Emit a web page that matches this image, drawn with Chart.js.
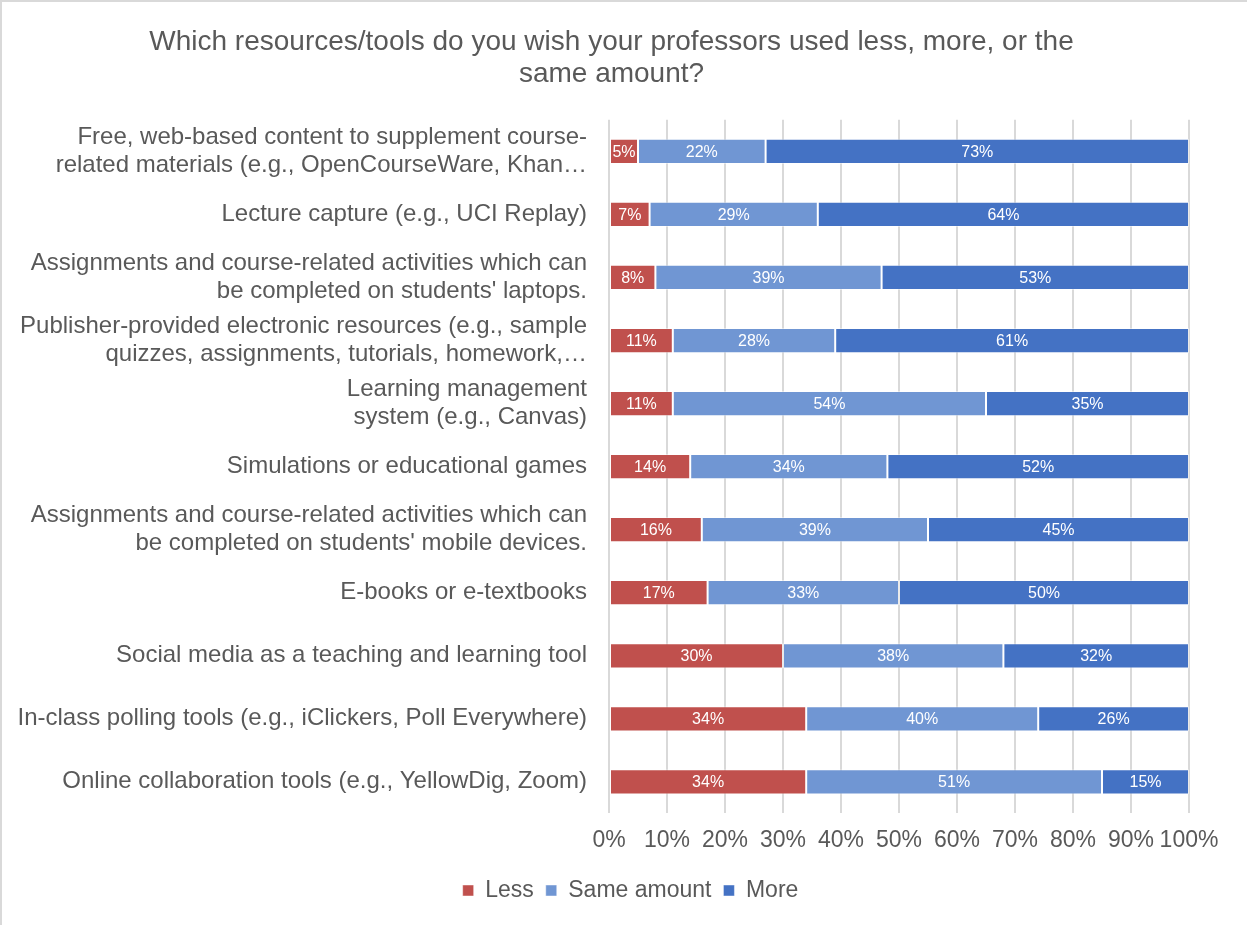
<!DOCTYPE html>
<html>
<head>
<meta charset="utf-8">
<title>Resources/tools survey</title>
<script src="https://cdn.jsdelivr.net/npm/chart.js@4.4.1/dist/chart.umd.min.js"></script>
<style>
    html, body { margin: 0; padding: 0; background: #ffffff; }
    .frame { position: relative; width: 1247px; height: 925px; }
    .frame::after {
        content: '';
        position: absolute;
        inset: 0;
        border-top: 2px solid #d9d9d9;
        border-left: 2px solid #d9d9d9;
        pointer-events: none;
    }
    canvas { display: block; }
</style>
</head>
<body>
<div class="frame">
    <canvas id="surveyChart" width="1247" height="925"></canvas>
</div>
<script>
// Survey answers, top to bottom
const categories = [
    ['Free, web-based content to supplement course-', 'related materials (e.g., OpenCourseWare, Khan\u2026'],
    'Lecture capture (e.g., UCI Replay)',
    ['Assignments and course-related activities which can', "be completed on students' laptops."],
    ['Publisher-provided electronic resources (e.g., sample', 'quizzes, assignments, tutorials, homework,\u2026'],
    ['Learning management', 'system (e.g., Canvas)'],
    'Simulations or educational games',
    ['Assignments and course-related activities which can', "be completed on students' mobile devices."],
    'E-books or e-textbooks',
    'Social media as a teaching and learning tool',
    'In-class polling tools (e.g., iClickers, Poll Everywhere)',
    'Online collaboration tools (e.g., YellowDig, Zoom)'
];

const lessValues = [5, 7, 8, 11, 11, 14, 16, 17, 30, 34, 34];
const sameValues = [22, 29, 39, 28, 54, 34, 39, 33, 38, 40, 51];
const moreValues = [73, 64, 53, 61, 35, 52, 45, 50, 32, 26, 15];

const seriesNames = ['Less', 'Same amount', 'More'];
const xTicks = [0, 10, 20, 30, 40, 50, 60, 70, 80, 90, 100];

const colors = {
    less: '#c0504d',
    same: '#7096d3',
    more: '#4472c4',
    text: '#595959',
    grid: '#d9d9d9'
};

const FONT = "'Liberation Sans', Arial, sans-serif";

// Writes the percentage in the middle of each bar segment
const segmentLabels = {
    id: 'segmentLabels',
    afterDatasetsDraw(chart) {
        const ctx = chart.ctx;
        ctx.save();
        ctx.font = '16px ' + FONT;
        ctx.fillStyle = '#ffffff';
        ctx.textAlign = 'center';
        ctx.textBaseline = 'middle';
        chart.data.datasets.forEach((ds, i) => {
            const meta = chart.getDatasetMeta(i);
            meta.data.forEach((bar, j) => {
                const { x, y, base } = bar.getProps(['x', 'y', 'base'], true);
                ctx.fillText(ds.data[j] + '%', (x + base) / 2, y + 1);
            });
        });
        ctx.restore();
    }
};

// Title and legend are centred a bit to the right of the layout box
const blockShift = {
    id: 'blockShift',
    afterLayout(chart) {
        chart.titleBlock.left += 17;
        chart.titleBlock.right += 17;
        chart.legend.left += 36;
        chart.legend.right += 36;
    }
};

const makeSet = (label, data, color) => ({
    label: label,
    data: data,
    backgroundColor: color,
    borderColor: 'rgba(255, 255, 255, 0.45)',
    borderWidth: 1,
    borderSkipped: false,
    barPercentage: 0.8,
    categoryPercentage: 0.5
});

const ctx = document.getElementById('surveyChart').getContext('2d');
const surveyChart = new Chart(ctx, {
    type: 'bar',
    data: {
        labels: categories,
        datasets: [
            makeSet(seriesNames[0], lessValues, colors.less),
            makeSet(seriesNames[1], sameValues, colors.same),
            makeSet(seriesNames[2], moreValues, colors.more)
        ]
    },
    options: {
        indexAxis: 'y',
        responsive: false,
        animation: false,
        layout: {
            padding: { left: 0, right: 58, top: 0, bottom: 13 }
        },
        scales: {
            x: {
                stacked: true,
                min: 0,
                max: 100,
                afterBuildTicks(scale) {
                    scale.ticks = xTicks.map(v => ({ value: v }));
                },
                ticks: {
                    callback: v => v + '%',
                    color: colors.text,
                    font: { family: FONT, size: 23 },
                    padding: 13,
                    maxRotation: 0,
                    autoSkip: false
                },
                grid: {
                    color: colors.grid,
                    lineWidth: 2,
                    drawTicks: false
                },
                border: { display: false }
            },
            y: {
                stacked: true,
                afterFit(scale) {
                    scale.width = 609;
                },
                ticks: {
                    color: colors.text,
                    font: { family: FONT, size: 24, lineHeight: 1.17 },
                    padding: 14,
                    autoSkip: false
                },
                grid: { display: false },
                border: { display: false }
            }
        },
        plugins: {
            title: {
                display: true,
                text: ['Which resources/tools do you wish your professors used less, more, or the', 'same amount?'],
                color: colors.text,
                font: { family: FONT, size: 28, weight: 'normal', lineHeight: 1.14 },
                padding: { top: 26, bottom: 30 }
            },
            legend: {
                position: 'bottom',
                labels: {
                    color: colors.text,
                    font: { family: FONT, size: 23 },
                    boxWidth: 11,
                    boxHeight: 11,
                    padding: 12
                }
            },
            tooltip: { enabled: false }
        }
    },
    plugins: [segmentLabels, blockShift]
});
</script>
</body>
</html>
